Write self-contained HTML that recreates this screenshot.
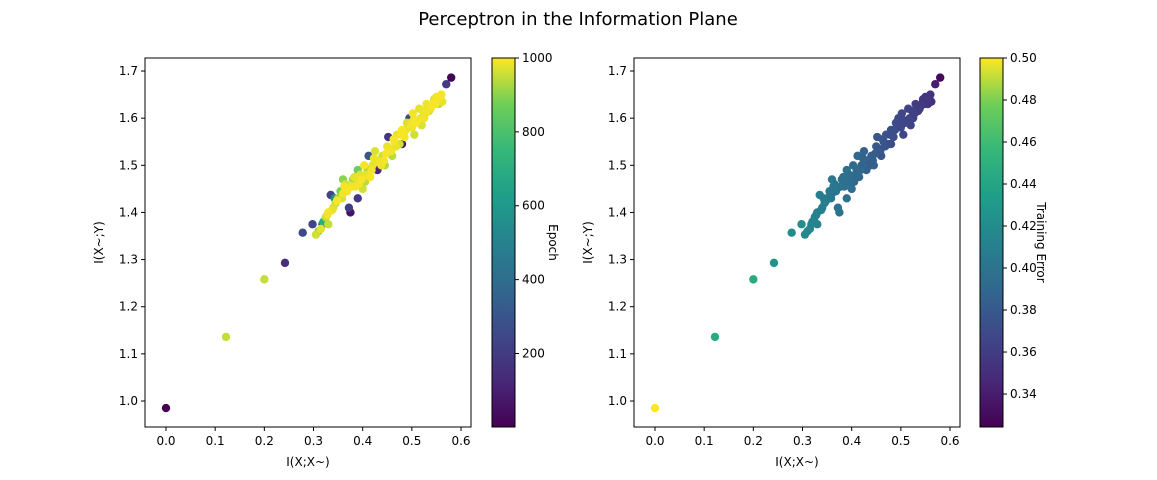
<!DOCTYPE html>
<html><head><meta charset="utf-8"><style>
html,body{margin:0;padding:0;background:#fff}
svg{display:block;font-family:"DejaVu Sans","Liberation Sans",sans-serif}
</style></head><body>
<svg id="fig" width="1157" height="480" viewBox="0 0 1157 480">
<defs>
<linearGradient id="vir" x1="0" y1="1" x2="0" y2="0">
<stop offset="0" stop-color="#440154"/><stop offset="0.125" stop-color="#482878"/>
<stop offset="0.25" stop-color="#3e4989"/><stop offset="0.375" stop-color="#31688e"/>
<stop offset="0.5" stop-color="#26828e"/><stop offset="0.625" stop-color="#1f9e89"/>
<stop offset="0.75" stop-color="#35b779"/><stop offset="0.875" stop-color="#6ece58"/>
<stop offset="1" stop-color="#fde725"/>
</linearGradient>
</defs>
<text x="578" y="25" font-size="18" text-anchor="middle">Perceptron in the Information Plane</text>
</svg>
<script>
const xs=[0,0.122,0.2,0.242,0.278,0.298,0.305,0.31,0.315,0.32,0.325,0.33,0.335,0.34,0.345,0.35,0.355,0.36,0.365,0.37,0.372,0.375,0.38,0.385,0.39,0.392,0.395,0.40,0.405,0.41,0.412,0.415,0.42,0.425,0.43,0.435,0.44,0.445,0.45,0.452,0.455,0.46,0.465,0.47,0.475,0.48,0.485,0.49,0.495,0.50,0.502,0.505,0.51,0.515,0.52,0.525,0.53,0.535,0.54,0.545,0.55,0.555,0.56,0.562,0.57,0.58,0.48,0.39,0.36,0.33,
0.318,0.328,0.338,0.348,0.358,0.368,0.378,0.388,0.398,0.408,0.418,0.428,0.438,0.448,0.458,0.468,0.478,0.488,0.498,0.508,0.518,0.528,0.538,0.548,0.558,0.343,0.363,0.383,0.403,0.423,0.443,0.463,0.483,0.503,0.523,0.543,0.553];
const ys=[0.985,1.136,1.258,1.293,1.357,1.375,1.353,1.36,1.365,1.38,1.39,1.40,1.437,1.41,1.42,1.43,1.445,1.44,1.46,1.45,1.41,1.40,1.47,1.455,1.49,1.46,1.48,1.45,1.465,1.49,1.52,1.475,1.50,1.53,1.49,1.505,1.52,1.50,1.54,1.56,1.535,1.52,1.55,1.565,1.545,1.575,1.56,1.59,1.60,1.58,1.61,1.565,1.595,1.62,1.585,1.60,1.63,1.615,1.625,1.64,1.645,1.63,1.65,1.635,1.672,1.686,1.545,1.43,1.47,1.375,
1.375,1.395,1.405,1.425,1.43,1.445,1.455,1.46,1.47,1.48,1.49,1.51,1.5,1.525,1.53,1.54,1.565,1.575,1.585,1.59,1.6,1.61,1.62,1.63,1.645,1.43,1.455,1.475,1.5,1.515,1.51,1.555,1.57,1.595,1.615,1.63,1.64];
const epochs=[1,950,950,150,250,240,960,900,980,700,950,990,230,970,940,920,880,990,960,995,200,60,930,985,870,990,975,960,940,910,300,995,980,970,120,990,960,930,985,180,970,940,990,980,960,995,990,970,250,985,990,960,995,980,970,990,985,960,995,975,990,950,995,980,200,10,80,190,900,950,
400,990,980,995,970,985,990,960,995,980,990,975,985,995,990,980,995,985,990,995,980,990,985,995,990,550,990,980,995,985,990,995,980,990,985,995,990];
const errs=[0.50,0.445,0.445,0.425,0.42,0.42,0.415,0.415,0.415,0.414,0.412,0.41,0.41,0.41,0.408,0.405,0.405,0.403,0.40,0.40,0.40,0.40,0.398,0.397,0.396,0.395,0.395,0.394,0.392,0.39,0.39,0.39,0.388,0.386,0.385,0.385,0.383,0.383,0.38,0.378,0.378,0.377,0.376,0.375,0.374,0.372,0.372,0.37,0.368,0.368,0.367,0.366,0.365,0.364,0.364,0.362,0.36,0.36,0.358,0.356,0.355,0.355,0.354,0.353,0.34,0.33,0.372,0.398,0.403,0.412,
0.414,0.412,0.41,0.408,0.404,0.402,0.4,0.397,0.395,0.392,0.39,0.387,0.384,0.381,0.378,0.376,0.373,0.37,0.368,0.366,0.364,0.362,0.36,0.357,0.355,0.409,0.404,0.398,0.394,0.388,0.383,0.377,0.372,0.367,0.363,0.358,0.356];
const xTicks=[0.0,0.1,0.2,0.3,0.4,0.5,0.6];
const yTicks=[1.0,1.1,1.2,1.3,1.4,1.5,1.6,1.7];
const epochTicks=[200,400,600,800,1000];
const errTicks=[0.34,0.36,0.38,0.40,0.42,0.44,0.46,0.48,0.50];
const V=[[68,1,84],[72,40,120],[62,73,137],[49,104,142],[38,130,142],[31,158,137],[53,183,121],[110,206,88],[253,231,37]];
function vir(t){t=Math.max(0,Math.min(1,t))*8;const i=Math.min(7,Math.floor(t)),f=t-i;const a=V[i],b=V[i+1];return `rgb(${a.map((v,k)=>Math.round(v+(b[k]-v)*f)).join(',')})`;}
const svg=document.getElementById('fig');const NS='http://www.w3.org/2000/svg';
function el(t,a,p){const e=document.createElementNS(NS,t);for(const k in a)e.setAttribute(k,a[k]);(p||svg).appendChild(e);return e;}
function panel(px,cbx,cval,cmin,cmax,cticks,clabel,fmt,key){
  const L=px,R=px+326,T=58,B=427;
  const X=v=>L+21+v*491.7, Y=v=>401-(v-1)*471.4;
  const g=el('g',{});
  
  
  const ord=xs.map((_,i)=>i);if(key==='epoch')ord.sort((a,b)=>epochs[a]-epochs[b]);
  ord.forEach(i=>{const c=el('circle',{cx:X(xs[i]),cy:Y(ys[i]),r:4.2,fill:vir((cval[i]-cmin)/(cmax-cmin))},g);
    
    });
  el('rect',{x:L,y:T,width:R-L,height:B-T,fill:'none',stroke:'#000','stroke-width':1},g);
  xTicks.forEach(v=>{const x=X(v);el('line',{x1:x,x2:x,y1:B,y2:B+4,stroke:'#000'},g);
    const t=el('text',{x:x,y:B+18,'font-size':12,'text-anchor':'middle'},g);t.textContent=v.toFixed(1);
    
    });
  yTicks.forEach(v=>{const y=Y(v);el('line',{x1:L-4,x2:L,y1:y,y2:y,stroke:'#000'},g);
    const t=el('text',{x:L-7,y:y+4,'font-size':12,'text-anchor':'end'},g);t.textContent=v.toFixed(1);
    
    });
  let t=el('text',{x:(L+R)/2,y:B+39,'font-size':12,'text-anchor':'middle'},g);t.textContent='I(X;X~)';
  
  
  t=el('text',{transform:`translate(${L-42},${(T+B)/2}) rotate(-90)`,'font-size':12,'text-anchor':'middle'},g);t.textContent='I(X~;Y)';
  
  
  const cb=el('rect',{x:cbx,y:T,width:23,height:B-T,fill:'url(#vir)',stroke:'#000'},g);
  
  
  const CY=v=>B-(v-cmin)/(cmax-cmin)*(B-T);
  cticks.forEach(v=>{const y=CY(v);el('line',{x1:cbx+23,x2:cbx+27,y1:y,y2:y,stroke:'#000'},g);
    const tt=el('text',{x:cbx+30,y:y+4,'font-size':12},g);tt.textContent=fmt(v);
    
    });
  t=el('text',{transform:`translate(${cbx+57},${(T+B)/2}) rotate(90)`,'font-size':12,'text-anchor':'middle'},g);t.textContent=clabel;
  
  
}
panel(145,492,epochs,1,1000,epochTicks,'Epoch',v=>String(v),'epoch');
panel(634,980,errs,0.3243,0.5,errTicks,'Training Error',v=>v.toFixed(2),'error');
</script>
</body></html>
